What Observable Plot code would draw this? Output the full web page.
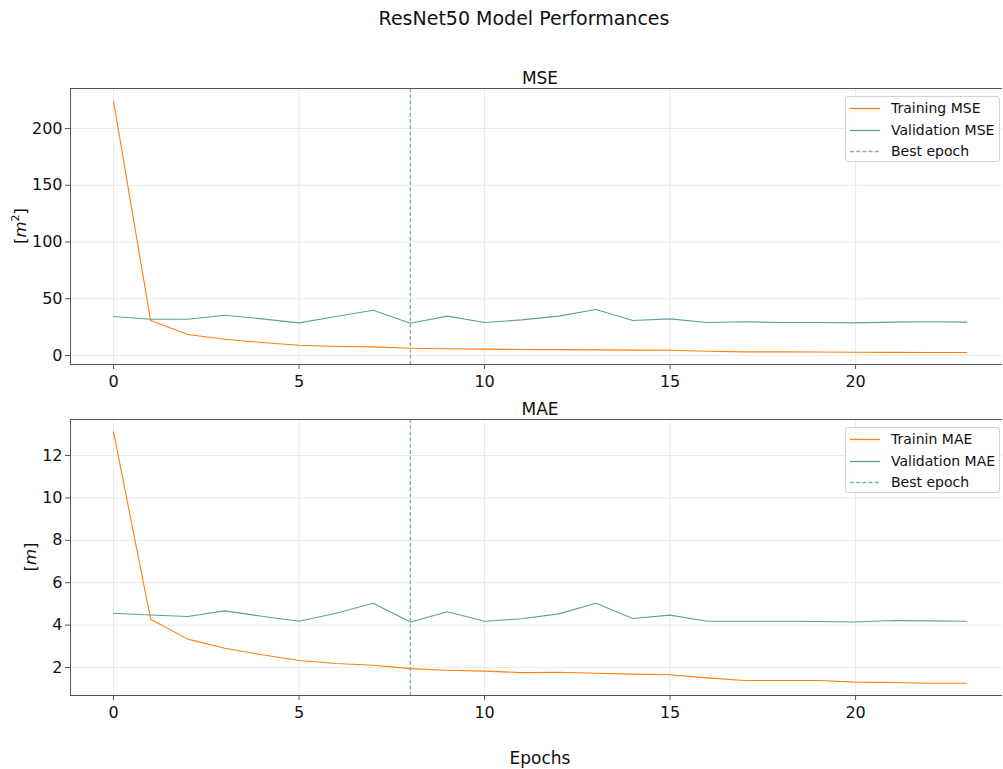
<!DOCTYPE html>
<html>
<head>
<meta charset="utf-8">
<script src="https://cdn.jsdelivr.net/npm/d3@7"></script>
<script src="https://cdn.jsdelivr.net/npm/@observablehq/plot@0.6"></script>
<style>
  html, body { margin: 0; padding: 0; background: #fff; }
  body { width: 1003px; height: 769px; overflow: hidden; position: relative; font-family: "DejaVu Sans", sans-serif; color: #111; }
  .abs { position: absolute; white-space: nowrap; }
  .title { font-size: 19px; transform: translate(-50%, -50%); }
  .sub { font-size: 17px; transform: translate(-50%, -50%); }
  .ylab { font-size: 16.5px; transform: translate(-50%, -50%) rotate(-90deg); }
  .ylab i { font-family: "DejaVu Sans"; font-style: oblique; }
  .ylab sup { font-size: 11px; vertical-align: 7px; line-height: 0; }
  .legend { position: absolute; width: 155px; height: 66px; border: 1px solid #d4d4d4; border-radius: 3px; background: rgba(255,255,255,0.85); box-sizing: border-box; z-index: 5; }
  .legrow { position: absolute; left: 4px; height: 20px; display: flex; align-items: center; font-size: 14px; color: #111; }
  .legrow svg { width: 32px; height: 20px; margin-right: 9px; }
  .panel { position: absolute; left: 0; }
</style>
</head>
<body>
<div id="root"></div>
<script>
// ---- data ----
const epochs = [0,1,2,3,4,5,6,7,8,9,10,11,12,13,14,15,16,17,18,19,20,21,22,23];
const trainMSE = [224, 30.8, 18.5, 14.4, 11.5, 9.1, 8.0, 7.6, 6.4, 6.0, 5.6, 5.3, 5.2, 5.0, 4.8, 4.7, 3.8, 3.2, 3.2, 3.1, 2.9, 2.8, 2.7, 2.7];
const valMSE = [34.4, 32.0, 32.0, 35.5, 32.3, 28.8, 34.4, 39.9, 28.5, 34.7, 29.1, 31.4, 34.7, 40.5, 30.8, 32.3, 29.1, 29.7, 29.1, 29.1, 28.8, 29.4, 29.7, 29.4];
const trainMAE = [13.12, 4.28, 3.34, 2.91, 2.60, 2.33, 2.19, 2.11, 1.95, 1.87, 1.83, 1.76, 1.78, 1.73, 1.69, 1.66, 1.51, 1.39, 1.39, 1.39, 1.31, 1.29, 1.26, 1.26];
const valMAE = [4.56, 4.48, 4.41, 4.67, 4.42, 4.18, 4.56, 5.03, 4.15, 4.63, 4.18, 4.30, 4.53, 5.03, 4.31, 4.47, 4.18, 4.18, 4.18, 4.17, 4.15, 4.22, 4.20, 4.18];
const bestEpoch = 8;
const xTicks = [0, 5, 10, 15, 20];
const mseTicks = [0, 50, 100, 150, 200];
const maeTicks = [2, 4, 6, 8, 10, 12];
const mseLegend = ["Training MSE", "Validation MSE", "Best epoch"];
const maeLegend = ["Trainin MAE", "Validation MAE", "Best epoch"];

const ORANGE = "#ff7f0e";
const TEAL = "#5f9ea0";
const BEST = "#7fb2bd";
const SPINE = "#555";
const GRID = "#ebebeb";
const xDomain = [-1.16, 23.96];

const root = document.getElementById("root");

function addDiv(cls, x, y, html) {
  const d = document.createElement("div");
  d.className = "abs " + cls;
  d.style.left = x + "px";
  d.style.top = y + "px";
  d.innerHTML = html;
  root.appendChild(d);
  return d;
}

function panel({train, val, yDomain, yTicks, top, marginTop, marginBottom}) {
  const plotH = 276;
  const rows = epochs.map((e, i) => ({epoch: e, train: train[i], val: val[i]}));
  const svg = Plot.plot({
    width: 1003,
    height: marginTop + plotH + marginBottom,
    marginLeft: 70,
    marginRight: 1,
    marginTop,
    marginBottom,
    style: {fontFamily: "DejaVu Sans, sans-serif", fontSize: "16px", color: "#111", background: "none", overflow: "visible"},
    x: {domain: xDomain},
    y: {domain: yDomain},
    marks: [
      Plot.gridX(xTicks, {stroke: GRID, strokeOpacity: 1}),
      Plot.gridY(yTicks, {stroke: GRID, strokeOpacity: 1}),
      Plot.ruleX([bestEpoch], {stroke: BEST, strokeWidth: 1.4, strokeDasharray: "4,2.2"}),
      Plot.line(rows, {x: "epoch", y: "val", stroke: TEAL, strokeWidth: 1.1}),
      Plot.line(rows, {x: "epoch", y: "train", stroke: ORANGE, strokeWidth: 1.1}),
      Plot.ruleY([yDomain[0], yDomain[1]], {stroke: SPINE, strokeWidth: 1}),
      Plot.ruleX([xDomain[0]], {stroke: SPINE, strokeWidth: 1}),
      Plot.axisX(xTicks, {tickSize: 5, tickPadding: 6, label: null, stroke: SPINE, fill: "#111"}),
      Plot.axisY(yTicks, {tickSize: 5, tickPadding: 3, label: null, stroke: SPINE, fill: "#111"})
    ]
  });
  svg.classList.add("panel");
  svg.style.top = (top - marginTop) + "px";
  root.appendChild(svg);
}

function legend(labels, left, top) {
  const box = document.createElement("div");
  box.className = "legend";
  box.style.left = left + "px";
  box.style.top = top + "px";
  const styles = [
    {stroke: ORANGE, dash: null},
    {stroke: TEAL, dash: null},
    {stroke: BEST, dash: "4,2.2"}
  ];
  labels.forEach((lab, i) => {
    const row = document.createElement("div");
    row.className = "legrow";
    row.style.top = (1 + i * 21.5) + "px";
    const s = styles[i];
    row.innerHTML = `<svg viewBox="0 0 32 20"><line x1="0" x2="30" y1="10.5" y2="10.5" stroke="${s.stroke}" stroke-width="1.3" ${s.dash ? `stroke-dasharray="${s.dash}"` : ""}/></svg><span>${lab}</span>`;
    box.appendChild(row);
  });
  root.appendChild(box);
}

// Figure title
addDiv("title", 524, 18, "ResNet50 Model Performances");

// MSE panel
addDiv("sub", 540, 78, "MSE");
panel({train: trainMSE, val: valMSE, yDomain: [-7.9, 235.2], yTicks: mseTicks, top: 88, marginTop: 38, marginBottom: 32});
addDiv("ylab", 20, 226, "[<i>m</i><sup>2</sup>]");
legend(mseLegend, 845, 96);

// MAE panel
addDiv("sub", 540, 409, "MAE");
panel({train: trainMAE, val: valMAE, yDomain: [0.68, 13.70], yTicks: maeTicks, top: 419, marginTop: 25, marginBottom: 40});
addDiv("ylab", 30, 557, "[<i>m</i>]");
legend(maeLegend, 845, 427);

// x label
addDiv("sub", 540, 758, "Epochs");
</script>
</body>
</html>
